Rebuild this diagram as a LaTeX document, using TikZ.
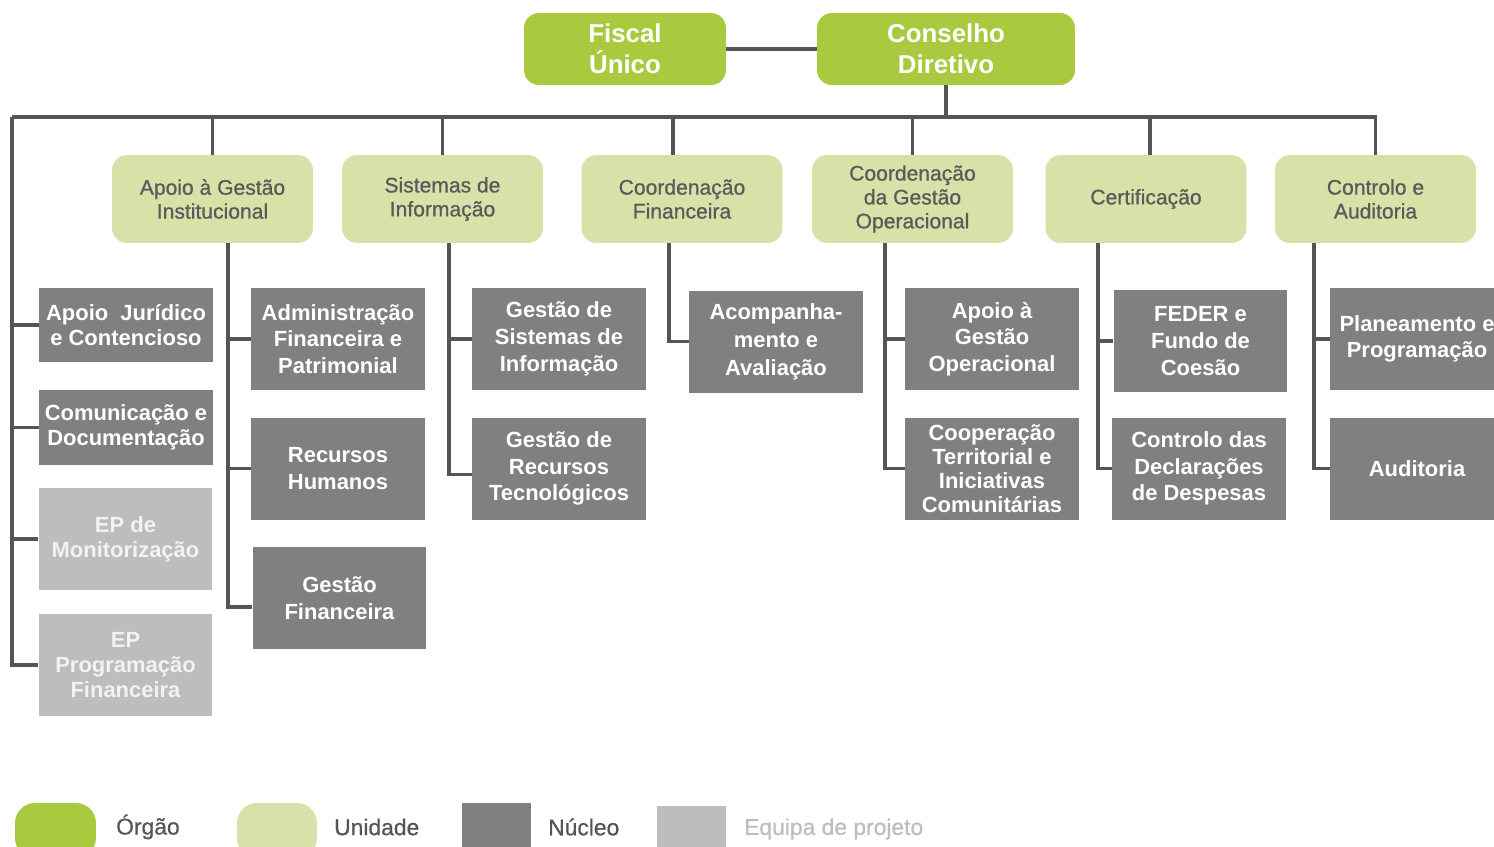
\documentclass[tikz,border=0pt]{standalone}
\usepackage{fontspec}
\setmainfont{Liberation Sans}
\usetikzlibrary{positioning}

\definecolor{orgaogreen}{HTML}{A9C93E}
\definecolor{unigreen}{HTML}{D7E2A9}
\definecolor{nucgrey}{HTML}{808080}
\definecolor{eqgrey}{HTML}{BDBDBD}
\definecolor{linegrey}{HTML}{555555}
\definecolor{textgrey}{HTML}{5A5A5A}

\tikzset{
  orgao/.style={rectangle, rounded corners=0.3cm, fill=orgaogreen, text=white, align=center,
    font=\fontsize{14.7}{17.6}\selectfont\bfseries, minimum height=1.44cm, inner sep=0pt},
  unidade/.style={rectangle, rounded corners=0.3cm, fill=unigreen, text=textgrey, align=center,
    font=\fontsize{12}{13.6}\selectfont\addfontfeature{FakeBold=0.8}, minimum width=4.02cm, minimum height=1.76cm, inner sep=0pt},
  nucleo/.style={rectangle, fill=nucgrey, text=white, align=center,
    font=\fontsize{12.5}{15.2}\selectfont\bfseries, minimum width=3.48cm, minimum height=2.04cm, inner sep=0pt},
  equipa/.style={nucleo, fill=eqgrey, text=white!95!black},
  link/.style={draw=linegrey, line width=2pt},
  legtext/.style={anchor=west, text=linegrey, font=\fontsize{13}{15}\selectfont\addfontfeature{FakeBold=0.6}},
}

\begin{document}
\begin{tikzpicture}[x=0.02cm, y=-0.02cm]
    \clip (0,0) rectangle (1494,846);

    % Draw organs
    \node[orgao, minimum width=4.04cm] (fu) at (625,49) {Fiscal\\Único};
    \node[orgao, minimum width=5.16cm] (cd) at (946,49) {Conselho\\Diretivo};

    % Draw units
    \node[unidade] (agi) at (212.5,199) {Apoio à Gestão\\Institucional};
    \node[unidade] (si) at (442.5,199) {Sistemas de\\Informação};
    \node[unidade] (cf) at (682,199) {Coordenação\\Financeira};
    \node[unidade] (cgo) at (912.5,199) {Coordenação\\da Gestão\\Operacional};
    \node[unidade] (cert) at (1146,199) {Certificação};
    \node[unidade] (ca) at (1375.5,199) {Controlo e\\Auditoria};

    % Draw nuclei and project teams
    \node[nucleo, minimum height=1.48cm, font=\fontsize{12.5}{14.2}\selectfont\bfseries] (ajc) at (126,325) {Apoio\ \ Jurídico\\e Contencioso};
    \node[nucleo, minimum height=1.5cm, font=\fontsize{12.5}{14.2}\selectfont\bfseries] (cdoc) at (126,427.5) {Comunicação e\\Documentação};
    \node[equipa, font=\fontsize{12.5}{14.2}\selectfont\bfseries] (epm) at (125.5,539) {EP de\\Monitorização};
    \node[equipa, font=\fontsize{12.5}{14.2}\selectfont\bfseries] (epf) at (125.5,665) {EP\\Programação\\Financeira};

    \node[nucleo] (afp) at (338,339) {Administração\\Financeira e\\Patrimonial};
    \node[nucleo] (rh) at (338,468.5) {Recursos\\Humanos};
    \node[nucleo] (gf) at (339.5,598) {Gestão\\Financeira};

    \node[nucleo] (gsi) at (559,339) {Gestão de\\Sistemas de\\Informação};
    \node[nucleo] (grt) at (559,468.5) {Gestão de\\Recursos\\Tecnológicos};

    \node[nucleo, font=\fontsize{12.5}{16}\selectfont\bfseries] (aa) at (776,341.5) {Acompanha-\\mento e\\Avaliação};

    \node[nucleo] (agop) at (992,339) {Apoio à\\Gestão\\Operacional};
    \node[nucleo, font=\fontsize{12.5}{13.6}\selectfont\bfseries] (ctic) at (992,468.5) {Cooperação\\Territorial e\\Iniciativas\\Comunitárias};

    \node[nucleo] (feder) at (1200.5,341) {FEDER e\\Fundo de\\Coesão};
    \node[nucleo] (cdd) at (1199,468.5) {Controlo das\\Declarações\\de Despesas};

    \node[nucleo] (pp) at (1417,339) {Planeamento e\\Programação};
    \node[nucleo] (aud) at (1417,468.5) {Auditoria};

    % Draw main bar
    \coordinate (barL) at (12,117);
    \coordinate (barR) at (1376,117);
    \draw[link] (fu) -- (cd);
    \draw[link] (barL) -- (barR);
    \draw[link] (cd.south) |- (barR);
    \draw[link] (agi.north) |- (barR);
    \draw[link] (si.north) |- (barR);
    \draw[link] ([xshift=-0.18cm]cf.north) |- (barR);
    \draw[link] (cgo.north) |- (barR);
    \draw[link] ([xshift=0.08cm]cert.north) |- (barR);
    \draw[link] (ca.north) |- (barL);

    % Draw edges to nuclei
    \draw[link] (barL) |- (ajc.west);
    \draw[link] (barL) |- (cdoc.west);
    \draw[link] (barL) |- (epm.west);
    \draw[link] (barL) |- (epf.west);

    \draw[link] ([xshift=0.31cm]agi.south) |- (afp.west);
    \draw[link] ([xshift=0.31cm]agi.south) |- (rh.west);
    \draw[link] ([xshift=0.31cm]agi.south) |- ([yshift=-0.18cm]gf.west);

    \draw[link] ([xshift=0.13cm]si.south) |- (gsi.west);
    \draw[link] ([xshift=0.13cm]si.south) |- ([yshift=-0.12cm]grt.west);

    \draw[link] ([xshift=-0.26cm]cf.south) |- (aa.west);

    \draw[link] ([xshift=-0.55cm]cgo.south) |- (agop.west);
    \draw[link] ([xshift=-0.55cm]cgo.south) |- (ctic.west);

    \draw[link] ([xshift=-0.96cm]cert.south) |- (feder.west);
    \draw[link] ([xshift=-0.96cm]cert.south) |- (cdd.west);

    \draw[link] ([xshift=-1.23cm]ca.south) |- (pp.west);
    \draw[link] ([xshift=-1.23cm]ca.south) |- (aud.west);

    % Legend
    \node[rectangle, rounded corners=0.4cm, fill=orgaogreen, minimum width=1.62cm, minimum height=1.1cm] (sworg) at (55.5,830.5) {};
    \node[rectangle, rounded corners=0.4cm, fill=unigreen, minimum width=1.6cm, minimum height=1.1cm] (swuni) at (277,830.5) {};
    \node[rectangle, fill=nucgrey, minimum width=1.38cm, minimum height=1.1cm] (swnuc) at (496.5,830.5) {};
    \node[rectangle, fill=eqgrey, minimum width=1.38cm, minimum height=1.04cm] (sweq) at (691.5,832) {};
    \node[legtext] (lorg) at (110,827) {Órgão};
    \node[legtext] (luni) at (328,827) {Unidade};
    \node[legtext] (lnuc) at (542,827) {Núcleo};
    \node[legtext, text=eqgrey] (leq) at (738,829) {Equipa de projeto};
\end{tikzpicture}
\end{document}
